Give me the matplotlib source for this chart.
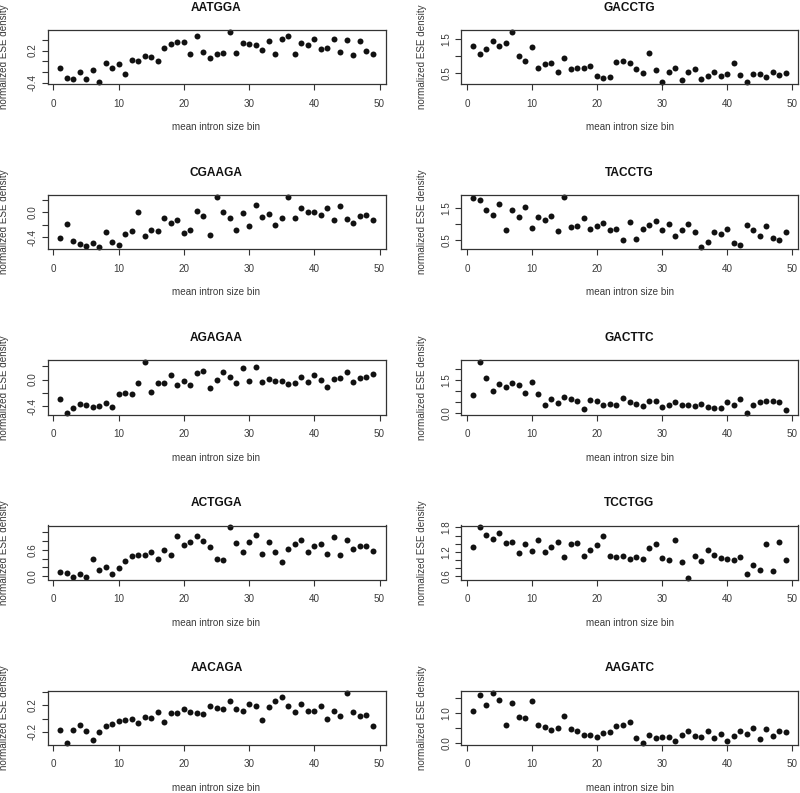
"""Normalized ESE density per mean intron size bin, one panel per motif."""

from __future__ import annotations

import matplotlib

matplotlib.use("Agg")
import matplotlib.pyplot as plt

plt.rcParams["font.family"] = ["Liberation Sans", "DejaVu Sans"]

bins = list(range(1, 50))

AATGGA = [-0.134, -0.305, -0.336, -0.198, -0.324, -0.16, -0.387, -0.033, -0.128, -0.052,
          -0.242, 0.03, 0.0, 0.093, 0.074, 0.011, 0.257, 0.326, 0.358, 0.358,
          0.137, 0.471, 0.168, 0.055, 0.137, 0.162, 0.547, 0.162, 0.339, 0.314,
          0.295, 0.213, 0.377, 0.143, 0.408, 0.465, 0.137, 0.333, 0.307, 0.421,
          0.232, 0.244, 0.421, 0.181, 0.402, 0.112, 0.37, 0.194, 0.143]
GACCTG = [1.29, 1.055, 1.22, 1.43, 1.31, 1.37, 1.71, 0.995, 0.837, 1.26,
          0.65, 0.757, 0.807, 0.54, 0.955, 0.62, 0.63, 0.63, 0.71, 0.41,
          0.35, 0.38, 0.817, 0.847, 0.807, 0.62, 0.51, 1.10, 0.59, 0.24,
          0.53, 0.64, 0.30, 0.53, 0.62, 0.32, 0.41, 0.52, 0.41, 0.48,
          0.787, 0.45, 0.23, 0.47, 0.46, 0.38, 0.52, 0.44, 0.49]
CGAAGA = [-0.41, -0.19, -0.465, -0.51, -0.54, -0.50, -0.56, -0.31, -0.486, -0.53,
          -0.346, -0.30, 0.01, -0.38, -0.29, -0.30, -0.097, -0.173, -0.119, -0.33,
          -0.28, 0.027, -0.054, -0.367, 0.248, 0.005, -0.097, -0.28, -0.011, -0.227,
          0.113, -0.076, -0.027, -0.205, -0.097, 0.243, -0.097, 0.07, 0.005, 0.0,
          -0.038, 0.065, -0.13, 0.103, -0.113, -0.173, -0.065, -0.043, -0.119]
TACCTG = [1.82, 1.74, 1.44, 1.29, 1.625, 0.81, 1.44, 1.21, 1.54, 0.885,
          1.21, 1.135, 1.26, 0.79, 1.84, 0.896, 0.94, 1.17, 0.845, 0.95,
          1.04, 0.80, 0.854, 0.51, 1.07, 0.54, 0.845, 0.97, 1.09, 0.81,
          1.0, 0.635, 0.80, 1.0, 0.74, 0.28, 0.44, 0.76, 0.70, 0.854,
          0.41, 0.33, 0.98, 0.80, 0.635, 0.93, 0.57, 0.5, 0.76]
AGAGAA = [-0.285, -0.49, -0.42, -0.36, -0.385, -0.41, -0.395, -0.35, -0.405, -0.215,
          -0.205, -0.21, -0.045, 0.255, -0.19, -0.055, -0.05, 0.07, -0.075, -0.025,
          -0.075, 0.095, 0.125, -0.13, -0.01, 0.12, 0.045, -0.055, 0.175, -0.025,
          0.195, -0.03, 0.005, -0.02, -0.02, -0.07, -0.05, 0.035, -0.04, 0.075,
          -0.01, -0.115, 0.005, 0.02, 0.11, -0.03, 0.02, 0.045, 0.085]
GACTTC = [0.82, 2.29, 1.61, 0.985, 1.33, 1.18, 1.35, 1.26, 0.91, 1.39,
          0.88, 0.39, 0.64, 0.45, 0.71, 0.64, 0.56, 0.18, 0.58, 0.545,
          0.35, 0.41, 0.39, 0.68, 0.5, 0.42, 0.32, 0.545, 0.56, 0.29,
          0.38, 0.5, 0.38, 0.38, 0.33, 0.42, 0.26, 0.23, 0.23, 0.515,
          0.35, 0.65, 0.03, 0.35, 0.5, 0.56, 0.53, 0.5, 0.14]
ACTGGA = [0.092, 0.077, -0.038, 0.054, -0.038, 0.385, 0.138, 0.215, 0.038, 0.192,
          0.338, 0.46, 0.47, 0.47, 0.546, 0.385, 0.59, 0.485, 0.908, 0.70,
          0.777, 0.915, 0.80, 0.67, 0.39, 0.377, 1.115, 0.76, 0.56, 0.785,
          0.94, 0.51, 0.77, 0.554, 0.33, 0.63, 0.73, 0.83, 0.56, 0.677,
          0.746, 0.5, 0.885, 0.485, 0.838, 0.63, 0.69, 0.685, 0.577]
TCCTGG = [1.317, 1.80, 1.61, 1.517, 1.66, 1.417, 1.44, 1.158, 1.39, 1.208,
          1.49, 1.2, 1.317, 1.433, 1.075, 1.40, 1.408, 1.083, 1.25, 1.367,
          1.583, 1.1, 1.075, 1.092, 1.008, 1.058, 1.017, 1.283, 1.383, 1.033,
          1.0, 1.49, 0.933, 0.558, 1.092, 0.967, 1.233, 1.125, 1.042, 1.025,
          0.983, 1.058, 0.633, 0.875, 0.742, 1.383, 0.717, 1.433, 0.992]
AACAGA = [-0.165, -0.36, -0.175, -0.095, -0.18, -0.315, -0.2, -0.105, -0.085, -0.04,
          -0.015, -0.005, -0.07, 0.025, 0.01, 0.1, -0.045, 0.09, 0.08, 0.15,
          0.095, 0.085, 0.075, 0.195, 0.16, 0.15, 0.26, 0.15, 0.115, 0.22,
          0.185, -0.015, 0.17, 0.27, 0.32, 0.19, 0.1, 0.22, 0.115, 0.12,
          0.185, 0.0, 0.115, 0.045, 0.39, 0.095, 0.045, 0.05, -0.11]
AAGATC = [1.044, 1.6, 1.256, 1.667, 1.433, 0.589, 1.333, 0.867, 0.844, 1.378,
          0.611, 0.533, 0.444, 0.5, 0.889, 0.478, 0.389, 0.256, 0.267, 0.189,
          0.344, 0.367, 0.567, 0.6, 0.7, 0.156, 0.022, 0.256, 0.167, 0.2,
          0.189, 0.078, 0.267, 0.411, 0.222, 0.189, 0.411, 0.178, 0.289, 0.078,
          0.222, 0.4, 0.311, 0.511, 0.133, 0.456, 0.222, 0.389, 0.378]

# panel order: row by row, left then right
motifs = ["AATGGA", "GACCTG", "CGAAGA", "TACCTG", "AGAGAA",
          "GACTTC", "ACTGGA", "TCCTGG", "AACAGA", "AAGATC"]
series = [AATGGA, GACCTG, CGAAGA, TACCTG, AGAGAA,
          GACTTC, ACTGGA, TCCTGG, AACAGA, AAGATC]

# y ticks, and the subset R actually labelled (others dropped for overlap)
y_ticks = [
    [-0.4, -0.2, 0.0, 0.2, 0.4],
    [0.5, 1.0, 1.5],
    [-0.4, -0.2, 0.0, 0.2],
    [0.5, 1.0, 1.5],
    [-0.4, -0.2, 0.0, 0.2],
    [0.0, 0.5, 1.0, 1.5, 2.0],
    [0.0, 0.2, 0.4, 0.6, 0.8, 1.0],
    [0.6, 0.8, 1.0, 1.2, 1.4, 1.6, 1.8],
    [-0.2, 0.0, 0.2, 0.4],
    [0.0, 0.5, 1.0, 1.5],
]
y_labelled = [
    [-0.4, 0.2],
    [0.5, 1.5],
    [-0.4, 0.0],
    [0.5, 1.5],
    [-0.4, 0.0],
    [0.0, 1.5],
    [0.0, 0.6],
    [0.6, 1.2, 1.8],
    [-0.2, 0.2],
    [0.0, 1.0],
]
x_ticks = [0, 10, 20, 30, 40, 50]

W, H = 800, 793
col_left = [47.5, 461.0]
col_width = [338.0, 337.0]
ylabel_edge = [9.5, 426.5]  # right edge of the rotated y label, px
row_top = [30.0, 195.0, 360.5, 525.5, 690.5]
box_h = 54.0

TEXT = "#3a3a3a"
FS = 7.1


def main() -> None:
    fig = plt.figure(figsize=(W / 100, H / 100), dpi=100)

    for i, (name, vals) in enumerate(zip(motifs, series)):
        row, col = divmod(i, 2)
        left = col_left[col] / W
        bottom = 1 - (row_top[row] + box_h) / H
        ax = fig.add_axes([left, bottom, col_width[col] / W, box_h / H])

        ax.plot(bins, vals, "o", color="#111111", markersize=4.3, markeredgewidth=0,
                clip_on=False)
        ax.margins(x=0.04, y=0.04)

        ax.set_xticks(x_ticks)
        ax.set_xticklabels([str(t) for t in x_ticks])
        ax.set_yticks(y_ticks[i])
        labels = []
        for t in y_ticks[i]:
            labels.append(f"{t:.1f}" if any(abs(t - s) < 1e-9 for s in y_labelled[i]) else "")
        ax.set_yticklabels(labels)
        ax.set_xlim(1 - 0.04 * 48, 49 + 0.04 * 48)

        for sp in ax.spines.values():
            sp.set_color("#333333")
            sp.set_linewidth(0.9)
        ax.tick_params(direction="out", length=4, width=0.8, color="#333333",
                       labelsize=FS, labelcolor=TEXT, pad=3)
        ax.tick_params(axis="x", pad=6.5)
        for lab in ax.get_yticklabels():
            lab.set_rotation(90)
            lab.set_verticalalignment("center")

        ax.set_title(name, fontsize=8.6, fontweight="bold", color="#111111", pad=14)
        ax.set_xlabel("mean intron size bin", fontsize=FS, color=TEXT, labelpad=10)
        ax.set_ylabel("normalized ESE density", fontsize=FS, color=TEXT)
        ax.yaxis.set_label_coords((ylabel_edge[col] - col_left[col]) / col_width[col], 0.5)

    fig.savefig("out.png", dpi=100)


if __name__ == "__main__":
    main()
